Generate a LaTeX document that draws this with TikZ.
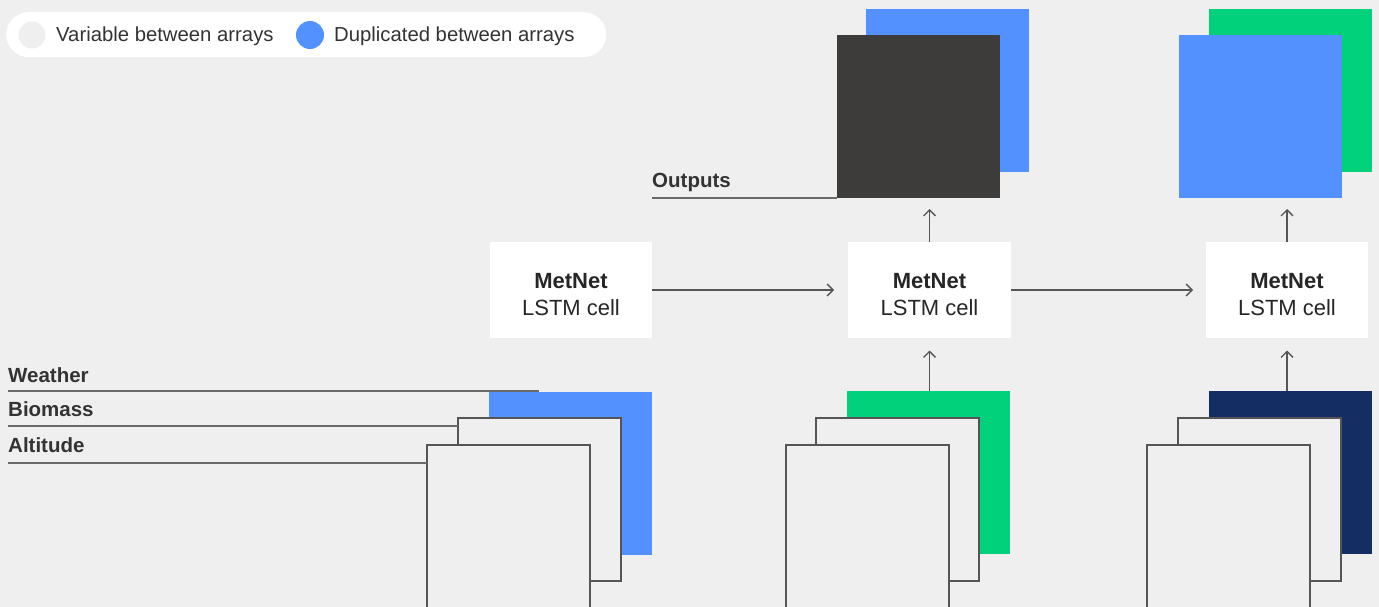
\documentclass[tikz,border=0pt]{standalone}
\usepackage{fontspec}
\setmainfont{Liberation Sans}
\usetikzlibrary{arrows.meta}
\definecolor{bg}{HTML}{EFEFEF}
\definecolor{mblue}{HTML}{5291FF}
\definecolor{mgreen}{HTML}{00D17A}
\definecolor{mnavy}{HTML}{142D63}
\definecolor{mdark}{HTML}{3D3C3A}
\definecolor{txt}{HTML}{333333}
\definecolor{edge}{HTML}{555555}
\definecolor{rule}{HTML}{6A6A6A}
\tikzset{
  sq/.style={minimum width=163pt, minimum height=163pt, inner sep=0pt, outer sep=0pt, anchor=north west},
  solidsq/.style={sq, fill=#1},
  framesq/.style={sq, fill=bg, draw=edge, line width=1.2pt},
  lstm/.style={fill=white, minimum width=162pt, minimum height=95.5pt, inner sep=0pt, outer sep=0pt, anchor=north west},
  lbl/.style={font=\fontsize{20.3}{24}\selectfont, text=txt, inner sep=0pt, anchor=base},
  celllbl/.style={font=\fontsize{22}{26}\selectfont, text=black!85, inner sep=0pt, anchor=base},
  sidelbl/.style={font=\fontsize{20.5}{24}\selectfont\bfseries, text=txt, inner sep=0pt, anchor=base west},
  flow/.style={draw=edge, line width=1.3pt, -{Straight Barb[length=6pt,width=12pt,line width=1.3pt]}},
  ruleline/.style={draw=rule, line width=1.2pt},
}
\begin{document}
\begin{tikzpicture}[x=1pt,y=-1pt]
\useasboundingbox[fill=bg] (0,0) rectangle (1379,607);
% legend
\node[fill=white, rounded corners=22.5pt, minimum width=600pt, minimum height=45pt, inner sep=0pt, anchor=north west] (legend) at (6,12) {};
\node[circle, fill=bg, minimum size=27pt, inner sep=0pt] (dotvar) at (32,35) {};
\node[circle, fill=mblue, minimum size=28pt, inner sep=0pt] (dotdup) at (310,35) {};
\node[lbl, anchor=base west] (tvar) at (56,42) {Variable between arrays};
\node[lbl, anchor=base west] (tdup) at (334,42) {Duplicated between arrays};

% column 1 inputs
\node[solidsq=mblue] (b1) at (489,392) {};
\node[framesq] (w1) at (458,418) {};
\node[framesq] (v1) at (427,445) {};
% column 2 inputs
\node[solidsq=mgreen] (b2) at (847,391) {};
\node[framesq] (w2) at (816,418) {};
\node[framesq] (v2) at (786,445) {};
% column 3 inputs
\node[solidsq=mnavy] (b3) at (1209,391) {};
\node[framesq] (w3) at (1178,418) {};
\node[framesq] (v3) at (1147,445) {};

% outputs
\node[solidsq=mblue] (o2b) at (866,9) {};
\node[solidsq=mdark] (o2f) at (837,35) {};
\node[solidsq=mgreen] (o3b) at (1209,9) {};
\node[solidsq=mblue] (o3f) at (1179,35) {};

% LSTM cells
\node[lstm] (c1) at (490,242) {};
\node[lstm, minimum width=163pt] (c2) at (848,242) {};
\node[lstm] (c3) at (1206,242) {};
\foreach \c/\x in {c1/571, c2/929.5, c3/1287}{
  \node[celllbl] (\c m) at (\x,288) {\bfseries MetNet};
  \node[celllbl] (\c l) at (\x,315) {LSTM cell};
}

% side labels
\node[sidelbl] (lw) at (8,382) {Weather};
\node[sidelbl] (lb) at (8,416) {Biomass};
\node[sidelbl] (la) at (8,452.5) {Altitude};
\node[sidelbl] (lo) at (652,187) {Outputs};
\coordinate (lwe) at (539,391);
\draw[ruleline] (lw.west |- lwe) -- (lwe);
\draw[ruleline] (lb.west |- 0,426) -- (w1.west |- 0,426);
\draw[ruleline] (la.west |- 0,463) -- (v1.west |- 0,463);
\draw[ruleline] (lo.west |- o2f.south) -- (o2f.south west);

% arrows
\draw[flow, shorten >=14pt] (c1.east |- 0,290) -- (c2.west |- 0,290);
\draw[flow, shorten >=13pt] (c2.east |- 0,290) -- (c3.west |- 0,290);
\draw[flow, shorten >=13pt] (c2.south |- b2.north) -- (c2.south);
\draw[flow, shorten >=13pt] (c3.south |- b3.north) -- (c3.south);
\draw[flow, shorten >=11pt] (c2.north) -- (c2.north |- o2f.south);
\draw[flow, shorten >=11pt] (c3.north) -- (c3.north |- o3f.south);
\end{tikzpicture}
\end{document}
